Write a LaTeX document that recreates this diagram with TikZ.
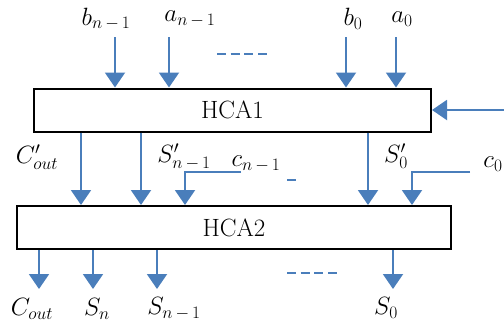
\RequirePackage{fix-cm}
\documentclass[tikz,border=0pt]{standalone}
\usetikzlibrary{arrows.meta}
\definecolor{ab}{HTML}{4A7EBB}
\begin{document}
\begin{tikzpicture}[x=1pt,y=-1pt,
  box/.style={draw=black, line width=2pt, inner sep=0pt, font=\fontsize{25}{28}\selectfont},
  sig/.style={draw=ab, line width=2pt, -{Triangle[width=20pt,length=15pt]}},
  dots/.style={draw=ab, line width=1.6pt, dash pattern=on 9pt off 4.7pt},
  lbl/.style={inner sep=0pt, font=\fontsize{25}{28}\selectfont}]
\useasboundingbox (0,0) rectangle (504,322);
% boxes
\node[box, minimum width=397pt, minimum height=43pt] (hca1) at (232.5,110) {HCA1};
\node[box, minimum width=434pt, minimum height=43pt] (hca2) at (234,227.5) {HCA2};
% top inputs
\coordinate (tb1) at (115,37);
\coordinate (ta1) at (169,37);
\coordinate (tb0) at (346,37);
\coordinate (ta0) at (396,37);
\draw[sig] (tb1) -- (tb1 |- hca1.north);
\draw[sig] (ta1) -- (ta1 |- hca1.north);
\draw[sig] (tb0) -- (tb0 |- hca1.north);
\draw[sig] (ta0) -- (ta0 |- hca1.north);
\node[lbl] (lb1) at (106,19) {$b_{n\,-\,1}$};
\node[lbl] (la1) at (190,19) {$a_{n\,-\,1}$};
\node[lbl] (lb0) at (353,19) {$b_0$};
\node[lbl] (la0) at (402,19) {$a_0$};
\coordinate (d1s) at (217,54);
\coordinate (d1e) at (267,54);
\draw[dots] (d1s) -- (d1e);
% right input
\coordinate (rin) at (504,110);
\draw[sig] (rin) -- (rin -| hca1.east);
% middle
\coordinate (m1) at (81,0);
\coordinate (m2) at (141,0);
\coordinate (m3) at (368,0);
\draw[sig] (m1 |- hca1.south) -- (m1 |- hca2.north);
\draw[sig] (m2 |- hca1.south) -- (m2 |- hca2.north);
\draw[sig] (m3 |- hca1.south) -- (m3 |- hca2.north);
\node[lbl] (lco1) at (37,157) {$C'_{out}$};
\node[lbl] (ls1) at (184,157) {$S'_{n\,-\,1}$};
\node[lbl] (ls0) at (396,156) {$S'_0$};
% carries
\coordinate (cn) at (241,172);
\coordinate (cnt) at (185,0);
\draw[sig] (cn) -| (cnt |- hca2.north);
\coordinate (c0) at (470,172);
\coordinate (c0t) at (412,0);
\draw[sig] (c0) -| (c0t |- hca2.north);
\node[lbl] (lcn) at (256,164) {$c_{n\,-\,1}$};
\node[lbl] (lc0) at (493,164) {$c_0$};
\coordinate (sd1) at (287,180);
\coordinate (sd2) at (296,180);
\draw[draw=ab, line width=1.6pt] (sd1) -- (sd2);
% outputs
\coordinate (o1) at (39,289);
\coordinate (o2) at (93,289);
\coordinate (o3) at (157,289);
\coordinate (o4) at (393,289);
\draw[sig] (o1 |- hca2.south) -- (o1);
\draw[sig] (o2 |- hca2.south) -- (o2);
\draw[sig] (o3 |- hca2.south) -- (o3);
\draw[sig] (o4 |- hca2.south) -- (o4);
\node[lbl] (lco) at (32,309) {$C_{out}$};
\node[lbl] (lsn) at (97,309) {$S_n$};
\node[lbl] (lsn1) at (174,309) {$S_{n\,-\,1}$};
\node[lbl] (ls00) at (386,308) {$S_0$};
\coordinate (d2s) at (287,273);
\coordinate (d2e) at (337,273);
\draw[dots] (d2s) -- (d2e);
\end{tikzpicture}
\end{document}
